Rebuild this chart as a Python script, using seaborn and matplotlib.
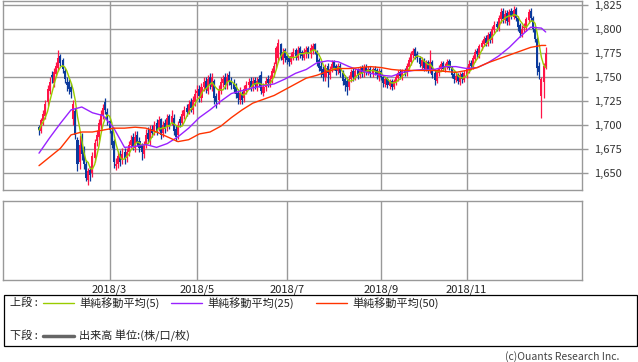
import matplotlib
matplotlib.use('Agg')
import matplotlib.pyplot as plt
import numpy as np
import pandas as pd
import seaborn as sns
from matplotlib.lines import Line2D
from matplotlib.patches import Rectangle

# daily prices, TSE sessions 2018-01-12 .. 2018-12-26 (one row per month)
opens = [
    1698, 1694, 1704, 1710, 1724, 1736, 1752, 1744, 1753, 1760, 1772, 1768, 1756, 1745,
    1745, 1740, 1706, 1715, 1685, 1662, 1685, 1672, 1660, 1643, 1654, 1650, 1666, 1684, 1688, 1700, 1710, 1724, 1714,
    1704, 1694, 1684, 1658, 1660, 1670, 1664, 1672, 1666, 1672, 1680, 1688, 1676, 1690, 1684, 1678, 1670, 1680, 1692, 1684, 1696,
    1694, 1702, 1696, 1706, 1692, 1702, 1698, 1710, 1702, 1708, 1696, 1690, 1706, 1702, 1710, 1718, 1714, 1724, 1716, 1724,
    1734, 1738, 1728, 1740, 1746, 1736, 1750, 1740, 1746, 1730, 1726, 1736, 1744, 1750, 1742, 1752, 1746, 1744, 1740, 1734, 1726,
    1732, 1728, 1736, 1742, 1746, 1740, 1747, 1740, 1748, 1752, 1734, 1740, 1748, 1744, 1748, 1754, 1764, 1770, 1784, 1768, 1778,
    1772, 1770, 1766, 1770, 1778, 1770, 1780, 1776, 1770, 1774, 1780, 1774, 1778, 1784, 1776, 1768, 1762, 1758, 1750, 1762, 1752,
    1758, 1766, 1762, 1756, 1762, 1754, 1748, 1746, 1740, 1748, 1756, 1750, 1757, 1752, 1760, 1754, 1761, 1755, 1759, 1753, 1759, 1757, 1750,
    1756, 1750, 1743, 1748, 1741, 1746, 1740, 1745, 1749, 1755, 1750, 1757, 1754, 1761, 1766, 1773, 1779, 1774,
    1770, 1762, 1768, 1759, 1766, 1757, 1766, 1754, 1746, 1754, 1759, 1765, 1758, 1761, 1767, 1760, 1753, 1747, 1752, 1745, 1753, 1747,
    1752, 1757, 1765, 1761, 1769, 1777, 1773, 1781, 1785, 1791, 1785, 1795, 1789, 1799, 1805, 1801, 1810, 1819, 1809, 1817, 1807,
    1819, 1813, 1821, 1812, 1804, 1795, 1801, 1801, 1809, 1819, 1812, 1800, 1790, 1762, 1730, 1745, 1760,
]
highs = [
    1700, 1708, 1716, 1726, 1742, 1750, 1756, 1760, 1766, 1778, 1774, 1770, 1760, 1750,
    1748, 1744, 1726, 1718, 1688, 1690, 1692, 1678, 1664, 1656, 1658, 1672, 1686, 1695, 1706, 1716, 1722, 1728, 1718,
    1708, 1698, 1686, 1666, 1672, 1674, 1676, 1676, 1676, 1684, 1690, 1692, 1694, 1694, 1688, 1682, 1684, 1696, 1698, 1700, 1700,
    1704, 1706, 1710, 1708, 1704, 1706, 1712, 1712, 1716, 1712, 1700, 1704, 1710, 1716, 1720, 1722, 1726, 1728, 1730, 1738,
    1742, 1742, 1744, 1750, 1750, 1752, 1754, 1754, 1748, 1734, 1742, 1750, 1752, 1754, 1754, 1756, 1750, 1748, 1744, 1738, 1740,
    1736, 1742, 1746, 1749, 1750, 1750, 1750, 1750, 1752, 1756, 1744, 1750, 1752, 1752, 1760, 1766, 1782, 1790, 1786, 1780, 1780,
    1774, 1772, 1776, 1780, 1780, 1782, 1782, 1778, 1780, 1782, 1782, 1784, 1786, 1786, 1778, 1770, 1766, 1762, 1764, 1765, 1762,
    1768, 1768, 1764, 1765, 1765, 1757, 1752, 1750, 1752, 1759, 1760, 1760, 1760, 1762, 1763, 1764, 1764, 1762, 1762, 1761, 1762, 1760, 1760,
    1758, 1752, 1750, 1750, 1748, 1748, 1748, 1753, 1757, 1758, 1759, 1760, 1765, 1771, 1777, 1780, 1781, 1777,
    1772, 1771, 1770, 1768, 1768, 1778, 1768, 1757, 1758, 1763, 1767, 1767, 1765, 1769, 1769, 1762, 1756, 1754, 1754, 1755, 1755, 1757,
    1762, 1768, 1768, 1773, 1779, 1780, 1785, 1789, 1793, 1794, 1797, 1798, 1803, 1808, 1808, 1815, 1822, 1822, 1820, 1820, 1821,
    1822, 1824, 1823, 1814, 1806, 1804, 1806, 1813, 1821, 1822, 1814, 1803, 1792, 1766, 1750, 1765, 1781,
]
lows = [
    1690, 1692, 1700, 1706, 1720, 1732, 1744, 1740, 1750, 1756, 1762, 1754, 1744, 1736,
    1732, 1728, 1700, 1686, 1652, 1655, 1664, 1655, 1642, 1638, 1642, 1646, 1662, 1678, 1685, 1696, 1706, 1712, 1700,
    1692, 1676, 1656, 1654, 1656, 1658, 1660, 1660, 1662, 1668, 1676, 1674, 1672, 1678, 1672, 1664, 1666, 1676, 1682, 1680, 1688,
    1690, 1690, 1694, 1686, 1688, 1692, 1694, 1696, 1700, 1690, 1684, 1686, 1698, 1700, 1706, 1710, 1712, 1714, 1712, 1720,
    1728, 1724, 1724, 1736, 1734, 1732, 1738, 1736, 1722, 1718, 1722, 1732, 1740, 1738, 1738, 1742, 1738, 1734, 1728, 1722, 1722,
    1722, 1724, 1732, 1738, 1736, 1736, 1738, 1736, 1740, 1732, 1730, 1736, 1740, 1740, 1744, 1750, 1760, 1766, 1768, 1764, 1766,
    1764, 1762, 1764, 1768, 1768, 1768, 1770, 1768, 1768, 1770, 1770, 1770, 1774, 1774, 1762, 1756, 1750, 1746, 1746, 1740, 1748,
    1755, 1757, 1752, 1753, 1750, 1742, 1736, 1731, 1737, 1745, 1746, 1747, 1748, 1749, 1750, 1750, 1752, 1752, 1750, 1750, 1752, 1748, 1746,
    1747, 1740, 1740, 1739, 1738, 1737, 1738, 1742, 1746, 1748, 1747, 1751, 1751, 1758, 1763, 1770, 1769, 1766,
    1761, 1759, 1756, 1756, 1754, 1754, 1749, 1742, 1744, 1751, 1756, 1756, 1755, 1758, 1757, 1749, 1744, 1745, 1743, 1742, 1744, 1745,
    1749, 1754, 1758, 1758, 1766, 1770, 1770, 1778, 1782, 1782, 1782, 1786, 1786, 1796, 1798, 1798, 1806, 1806, 1806, 1804, 1804,
    1810, 1810, 1808, 1798, 1792, 1792, 1797, 1798, 1806, 1808, 1797, 1787, 1752, 1748, 1708, 1728, 1758,
]
closes = [
    1695, 1705, 1712, 1722, 1738, 1745, 1750, 1755, 1762, 1770, 1765, 1758, 1748, 1742,
    1738, 1735, 1722, 1690, 1660, 1680, 1670, 1660, 1645, 1652, 1648, 1668, 1682, 1690, 1702, 1712, 1718, 1716, 1706,
    1695, 1680, 1662, 1660, 1668, 1662, 1670, 1665, 1672, 1680, 1685, 1678, 1688, 1682, 1676, 1672, 1680, 1690, 1686, 1695, 1692,
    1700, 1694, 1705, 1690, 1700, 1696, 1708, 1700, 1710, 1694, 1688, 1700, 1702, 1712, 1716, 1714, 1722, 1718, 1726, 1732,
    1736, 1730, 1740, 1745, 1738, 1748, 1742, 1750, 1728, 1724, 1738, 1745, 1748, 1742, 1750, 1746, 1742, 1738, 1732, 1728, 1734,
    1726, 1738, 1742, 1745, 1740, 1746, 1742, 1746, 1744, 1736, 1740, 1746, 1744, 1748, 1756, 1762, 1780, 1786, 1772, 1776, 1770,
    1768, 1766, 1772, 1776, 1772, 1778, 1774, 1772, 1776, 1778, 1774, 1780, 1782, 1778, 1766, 1760, 1756, 1752, 1760, 1754, 1758,
    1764, 1760, 1756, 1762, 1754, 1746, 1742, 1740, 1748, 1755, 1750, 1756, 1752, 1758, 1754, 1760, 1756, 1758, 1754, 1758, 1756, 1752, 1756,
    1750, 1744, 1748, 1742, 1745, 1740, 1746, 1750, 1754, 1751, 1756, 1754, 1762, 1768, 1774, 1777, 1772, 1770,
    1764, 1768, 1760, 1765, 1758, 1766, 1752, 1747, 1755, 1760, 1764, 1759, 1762, 1766, 1760, 1752, 1748, 1751, 1746, 1752, 1748, 1754,
    1758, 1764, 1762, 1770, 1776, 1774, 1782, 1786, 1790, 1786, 1794, 1790, 1800, 1804, 1802, 1812, 1818, 1810, 1816, 1808, 1818,
    1814, 1820, 1812, 1802, 1796, 1800, 1802, 1810, 1818, 1812, 1800, 1790, 1760, 1755, 1748, 1762, 1775,
]
jp_holidays = ['2018-02-12', '2018-03-21', '2018-04-30', '2018-05-03', '2018-05-04', '2018-07-16',
               '2018-09-17', '2018-09-24', '2018-10-08', '2018-11-23', '2018-12-24']
dates = pd.bdate_range('2018-01-12', '2018-12-26', freq='C', holidays=jp_holidays)

# 25/50 day moving averages every 5th session (+ last session)
ma_sessions = list(range(0, 236, 5)) + [237]
ma25 = [1671, 1687, 1702, 1716, 1719, 1713, 1710, 1697, 1677, 1678, 1680, 1677, 1681, 1688, 1697, 1708,
        1716, 1725, 1733, 1736, 1739, 1741, 1743, 1748, 1754, 1758, 1765, 1767, 1766, 1761, 1757, 1754,
        1752, 1751, 1755, 1757, 1758, 1758, 1761, 1761, 1759, 1760, 1765, 1772, 1781, 1792, 1802, 1801, 1797]
ma50 = [1658, 1667, 1676, 1690, 1693, 1693, 1695, 1697, 1697, 1698, 1697, 1693, 1688, 1683, 1685, 1691,
        1693, 1699, 1708, 1716, 1723, 1727, 1731, 1737, 1743, 1749, 1752, 1756, 1759, 1759, 1760, 1761,
        1760, 1758, 1757, 1757, 1757, 1757, 1756, 1755, 1757, 1760, 1765, 1769, 1773, 1777, 1781, 1783, 1783]

month_labels = ['2018/3', '2018/5', '2018/7', '2018/9', '2018/11']
price_ticks = [1650, 1675, 1700, 1725, 1750, 1775, 1800, 1825]

df = pd.DataFrame({'date': dates, 'open': opens, 'high': highs, 'low': lows, 'close': closes})
df['pos'] = np.arange(len(df))
df['ma5'] = df['close'].rolling(5, min_periods=1).mean()
ma = pd.DataFrame({'pos': ma_sessions, 'ma25': ma25, 'ma50': ma50})

month_pos = [df.loc[(df.date.dt.month == int(m.split('/')[1])), 'pos'].iloc[0] for m in month_labels]

sns.set_theme(style='white')
plt.rcParams['font.family'] = ['Noto Sans CJK JP', 'DejaVu Sans']

UP, DOWN = '#ff1447', '#0b3a9c'
GRID = '#999999'
fig = plt.figure(figsize=(6.38, 3.62), dpi=100)
W, H = 638, 362
xlim = (-16.84, 253.98)

ax = fig.add_axes([3 / W, 1 - 190 / H, 579 / W, 189 / H])
ax2 = fig.add_axes([3 / W, 1 - 280 / H, 579 / W, 79 / H])

# candles
col = np.where(df.close >= df.open, UP, DOWN)
ax.vlines(df.pos, df.low, df.high, colors=col, lw=0.9, zorder=2)
ax.bar(df.pos, (df.close - df.open).abs(), bottom=np.minimum(df.open, df.close),
       width=0.95, color=col, linewidth=0, zorder=2)

sns.lineplot(data=df, x='pos', y='ma5', ax=ax, color='#99cc00', lw=1, zorder=3)
sns.lineplot(data=ma, x='pos', y='ma25', ax=ax, color='#9922ff', lw=1, zorder=3)
sns.lineplot(data=ma, x='pos', y='ma50', ax=ax, color='#ff3300', lw=1, zorder=3)

ax.set_xlim(*xlim)
ax.set_ylim(1632.7, 1829.2)
ax.set_yticks(price_ticks)
ax.set_yticklabels([f'{v:,}' for v in price_ticks], fontsize=8, color='#333333')
ax.yaxis.tick_right()
ax.tick_params(axis='y', length=4, width=1, color=GRID, pad=5, right=True, left=False)
ax.set_xticks(month_pos)
ax.tick_params(axis='x', length=0, labelbottom=False)
ax.grid(True, color=GRID, lw=1)
ax.set_axisbelow(True)
ax.set_xlabel('')
ax.set_ylabel('')

ax2.set_xlim(*xlim)
ax2.set_ylim(0, 1)
ax2.set_yticks([])
ax2.set_xticks(month_pos)
ax2.set_xticklabels(month_labels, fontsize=8, color='#222222')
ax2.tick_params(axis='x', length=0, pad=3)
ax2.grid(True, axis='x', color=GRID, lw=1)

for a in (ax, ax2):
    for s in a.spines.values():
        s.set_color(GRID)
        s.set_linewidth(1)

# legend panel, drawn in pixel coordinates
lg = fig.add_axes([0, 0, 1, 1])
lg.set_xlim(0, W)
lg.set_ylim(H, 0)
lg.axis('off')
lg.add_patch(Rectangle((3.5, 295), 633, 51, fill=False, ec='black', lw=0.9))
lg.text(10, 303, '上段 :', fontsize=8, va='center', color='#222222')
lg.text(10, 336, '下段 :', fontsize=8, va='center', color='#222222')
for x0, c, t in [(43, '#99cc00', '単純移動平均(5)'), (171, '#9922ff', '単純移動平均(25)'),
                 (316, '#ff3300', '単純移動平均(50)')]:
    lg.add_line(Line2D([x0, x0 + 31], [303, 303], color=c, lw=1))
    lg.text(x0 + 36, 303, t, fontsize=8, va='center', color='#222222')
lg.add_line(Line2D([43, 74], [336, 336], color='#666666', lw=2.5))
lg.text(79, 336, '出来高 単位:(株/口/枚)', fontsize=8, va='center', color='#222222')
lg.text(619, 357, '(c)Ouants Research Inc.', fontsize=7.5, va='center', ha='right', color='#444444')

fig.savefig('out.png', dpi=100)
